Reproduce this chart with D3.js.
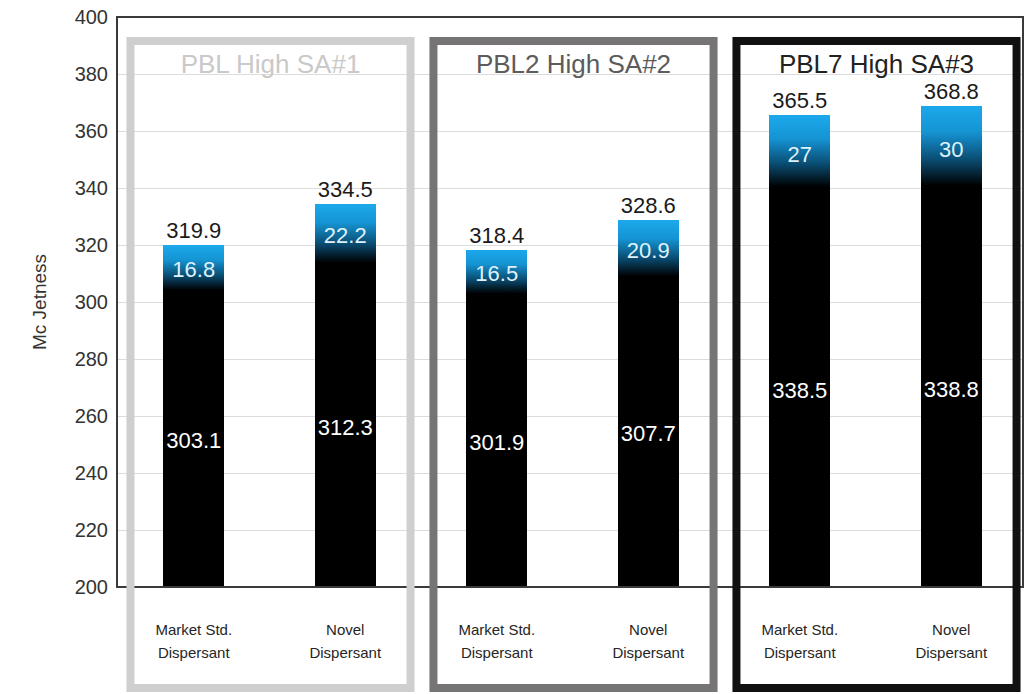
<!DOCTYPE html>
<html>
<head>
<meta charset="utf-8">
<script src="https://cdn.jsdelivr.net/npm/d3@7"></script>
<style>
  body { margin: 0; background: #fff; }
  svg { display: block; font-family: "Liberation Sans", Arial, sans-serif; }
</style>
</head>
<body>
<div id="chart"></div>
<script>
// Mc Jetness stacked bars, three sample groups

var groups = ["PBL High SA#1", "PBL2 High SA#2", "PBL7 High SA#3"];
var groupColors = ["#cfcfcf", "#767474", "#111111"];
var titleColors = ["#c9c9c9", "#5c5c5c", "#222222"];
var dispersants = ["Market Std.|Dispersant", "Novel|Dispersant"];
var baseValues = [303.1, 312.3, 301.9, 307.7, 338.5, 338.8];
var addValues = [16.8, 22.2, 16.5, 20.9, 27, 30];
var totals = [319.9, 334.5, 318.4, 328.6, 365.5, 368.8];
var yTicks = [200, 220, 240, 260, 280, 300, 320, 340, 360, 380, 400];

var W = 1027, H = 694;
var margin = { top: 17, right: 4, bottom: 107, left: 117 };

var svg = d3.select("#chart").append("svg")
  .attr("width", W)
  .attr("height", H);

// one row per bar
var rows = baseValues.map(function(v, i) {
  return {
    key: "b" + i,
    group: Math.floor(i / 2),
    label: dispersants[i % 2],
    base: v,
    add: addValues[i],
    total: totals[i]
  };
});

var x = d3.scaleBand()
  .domain(rows.map(function(d) { return d.key; }))
  .range([118, 1027])
  .paddingInner(0.6)
  .paddingOuter(0.3);

var y = d3.scaleLinear()
  .domain([200, 400])
  .range([H - margin.bottom, margin.top]);

var defs = svg.append("defs");
var grad = defs.append("linearGradient")
  .attr("id", "topGrad")
  .attr("x1", 0).attr("y1", 0).attr("x2", 0).attr("y2", 1);
grad.append("stop").attr("offset", "0").attr("stop-color", "#1ba9ec");
grad.append("stop").attr("offset", "0.3").attr("stop-color", "#1594d3");
grad.append("stop").attr("offset", "0.62").attr("stop-color", "#0a4d73");
grad.append("stop").attr("offset", "0.92").attr("stop-color", "#000000");

// gridlines
svg.append("g")
  .selectAll("line")
  .data(yTicks.slice(1, -1))
  .enter().append("line")
  .attr("x1", margin.left)
  .attr("x2", W - margin.right)
  .attr("y1", function(d) { return Math.round(y(d)) + 0.5; })
  .attr("y2", function(d) { return Math.round(y(d)) + 0.5; })
  .attr("stroke", "#dcdcdc")
  .attr("stroke-width", 1);

// y axis labels
var yAxis = svg.append("g")
  .attr("transform", "translate(" + margin.left + ",0)")
  .call(d3.axisLeft(y).tickValues(yTicks).tickSize(0).tickPadding(9));
yAxis.select(".domain").remove();
yAxis.selectAll("text")
  .style("font-size", "20px")
  .style("font-family", "Liberation Sans, Arial, sans-serif")
  .attr("fill", "#333");

svg.append("text")
  .attr("transform", "translate(46," + (margin.top + (H - margin.bottom - margin.top) / 2) + ") rotate(-90)")
  .attr("text-anchor", "middle")
  .style("font-size", "19px")
  .attr("fill", "#333")
  .text("Mc Jetness");

// bars: black base segment
svg.append("g")
  .selectAll("rect")
  .data(rows)
  .enter().append("rect")
  .attr("x", function(d) { return x(d.key); })
  .attr("width", x.bandwidth())
  .attr("y", function(d) { return y(d.base) - 1; })
  .attr("height", function(d) { return y(200) - y(d.base) + 1; })
  .attr("fill", "#000")
  .attr("shape-rendering", "crispEdges");

// gradient top segment (overlaps base by a pixel so no seam shows)
svg.append("g")
  .selectAll("rect")
  .data(rows)
  .enter().append("rect")
  .attr("x", function(d) { return x(d.key); })
  .attr("width", x.bandwidth())
  .attr("y", function(d) { return y(d.base + d.add); })
  .attr("height", function(d) { return y(d.base) - y(d.base + d.add) + 1; })
  .attr("fill", "url(#topGrad)")
  .attr("shape-rendering", "crispEdges");

// outer plot frame
svg.append("rect")
  .attr("x", margin.left)
  .attr("y", margin.top)
  .attr("width", W - margin.left - margin.right)
  .attr("height", H - margin.bottom - margin.top)
  .attr("fill", "none")
  .attr("stroke", "#3a3a3a")
  .attr("stroke-width", 2);

// group boxes
var boxPad = 33;
var boxes = svg.append("g")
  .selectAll("g")
  .data(groups)
  .enter().append("g");

boxes.append("rect")
  .attr("x", function(d, i) { return x(rows[i * 2].key) - boxPad; })
  .attr("y", 41)
  .attr("width", function(d, i) {
    return x(rows[i * 2 + 1].key) + x.bandwidth() + boxPad - (x(rows[i * 2].key) - boxPad) + 2;
  })
  .attr("height", 647)
  .attr("fill", "none")
  .attr("stroke", function(d, i) { return groupColors[i]; })
  .attr("stroke-width", 8);

boxes.append("text")
  .attr("x", function(d, i) {
    return (x(rows[i * 2].key) + x(rows[i * 2 + 1].key) + x.bandwidth()) / 2 + 1;
  })
  .attr("y", 73)
  .attr("text-anchor", "middle")
  .style("font-size", "26px")
  .attr("fill", function(d, i) { return titleColors[i]; })
  .text(function(d) { return d; });

// value labels
var labels = svg.append("g")
  .selectAll("g")
  .data(rows)
  .enter().append("g");

labels.append("text")
  .attr("x", function(d) { return x(d.key) + x.bandwidth() / 2; })
  .attr("y", function(d) { return y(d.total) - 7; })
  .attr("text-anchor", "middle")
  .style("font-size", "22px")
  .attr("fill", "#1a1a1a")
  .text(function(d) { return d.total; });

labels.append("text")
  .attr("x", function(d) { return x(d.key) + x.bandwidth() / 2; })
  .attr("y", function(d) { return y(d.base + d.add / 2); })
  .attr("dy", "0.36em")
  .attr("text-anchor", "middle")
  .style("font-size", "22px")
  .attr("fill", "#dff2fc")
  .text(function(d) { return d.add; });

labels.append("text")
  .attr("x", function(d) { return x(d.key) + x.bandwidth() / 2; })
  .attr("y", function(d) { return y((200 + d.base) / 2); })
  .attr("dy", "0.36em")
  .attr("text-anchor", "middle")
  .style("font-size", "22px")
  .attr("fill", "#fff")
  .text(function(d) { return d.base; });

// category labels
var cats = svg.append("g")
  .selectAll("text")
  .data(rows)
  .enter().append("text")
  .attr("x", function(d) { return x(d.key) + x.bandwidth() / 2; })
  .attr("y", 635)
  .attr("text-anchor", "middle")
  .style("font-size", "15px")
  .attr("fill", "#262626");

cats.selectAll("tspan")
  .data(function(d) { return d.label.split("|"); })
  .enter().append("tspan")
  .attr("x", function() { return d3.select(this.parentNode).attr("x"); })
  .attr("dy", function(d, i) { return i === 0 ? 0 : 23; })
  .text(function(d) { return d; });
</script>
</body>
</html>
